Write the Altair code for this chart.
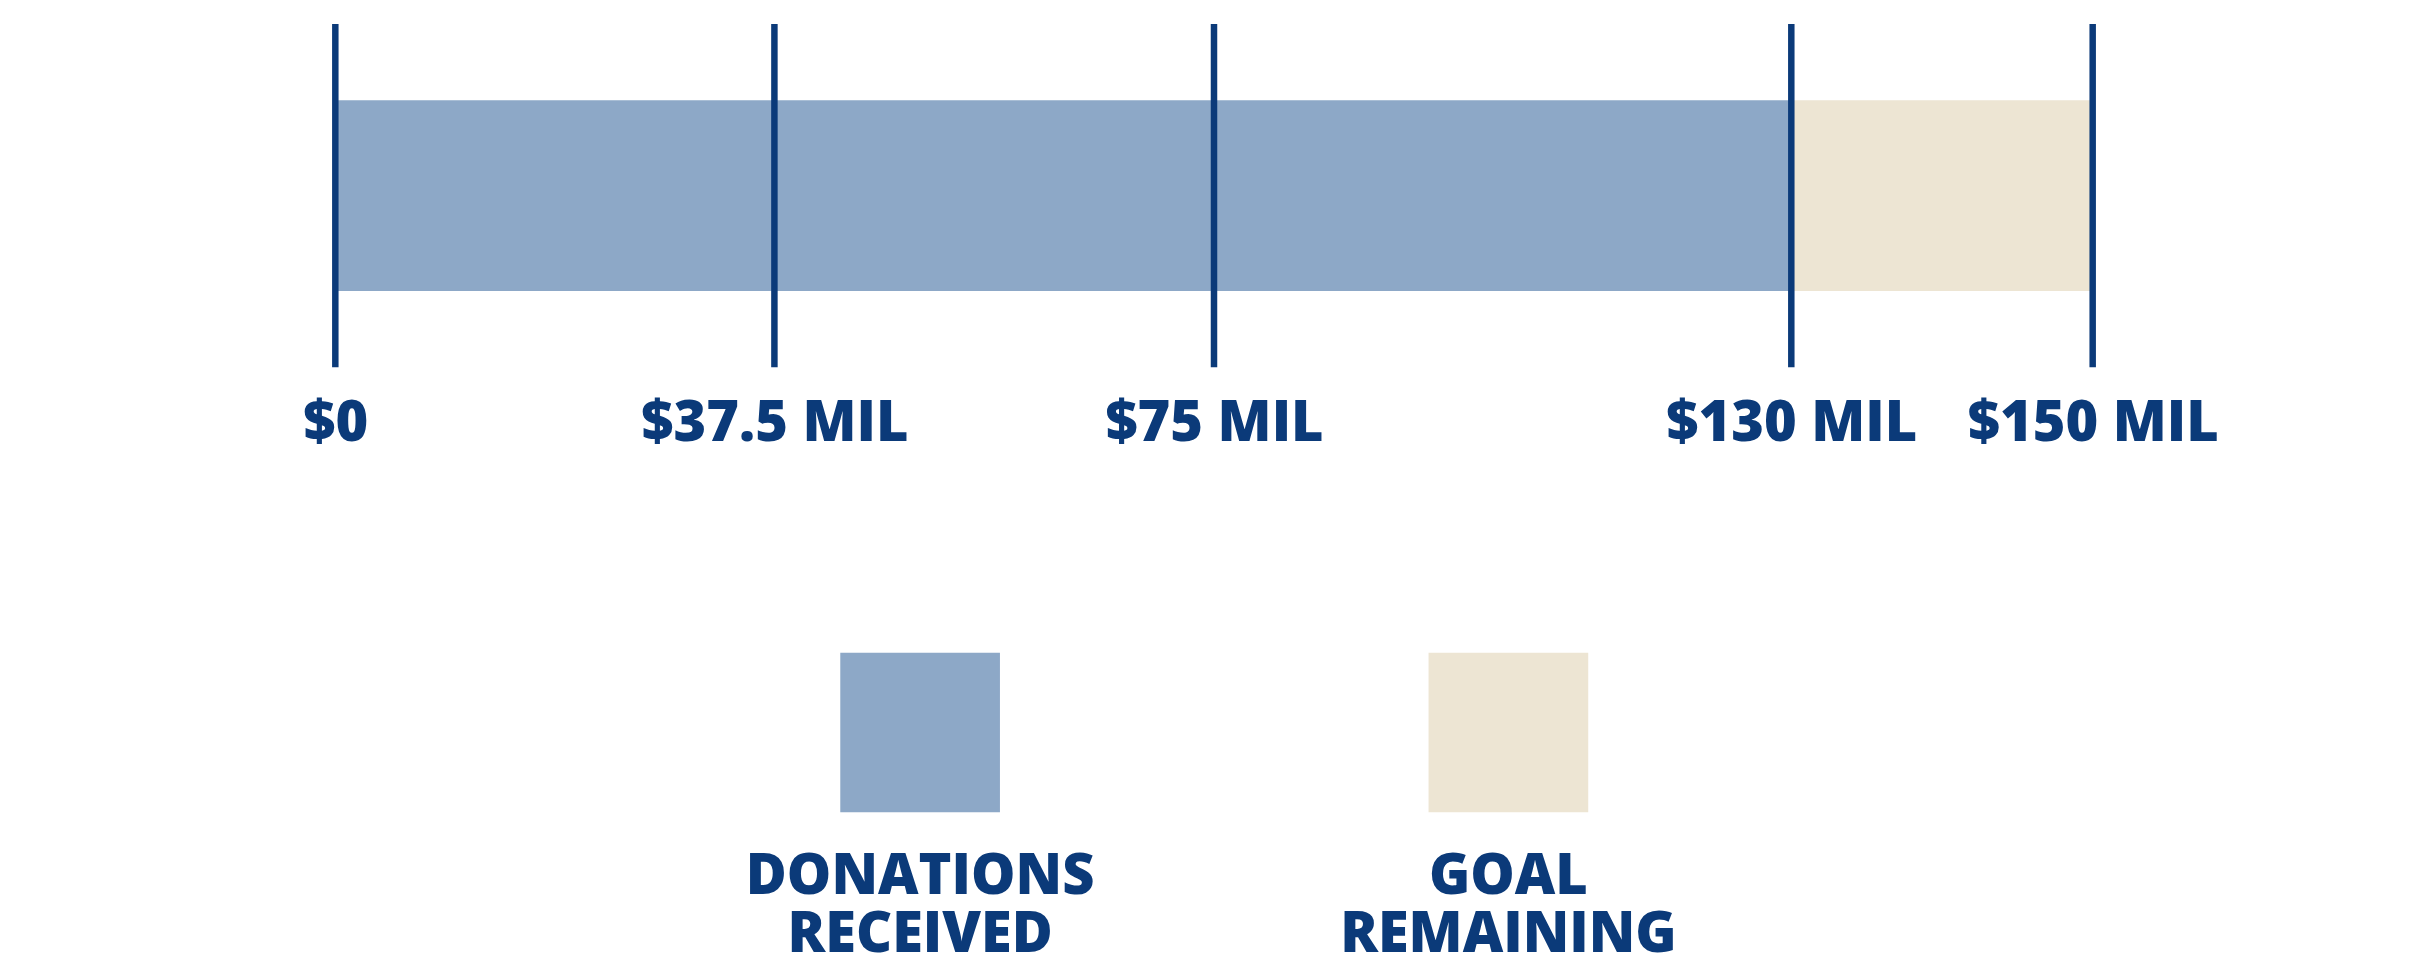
import altair as alt
import pandas as pd

# ---- data ----
SEGMENTS = ["Donations Received", "Goal Remaining"]
SEG_START = [0, 130]
SEG_END = [130, 150]
TICK_VALUES = [0, 37.5, 75, 130, 150]
TICK_LABELS = ["$0", "$37.5 MIL", "$75 MIL", "$130 MIL", "$150 MIL"]

# ---- style ----
NAVY = "#0B3A79"
COLORS = ["#8DA8C7", "#EDE5D3"]
FONT = "Open Sans"
WEIGHT = 800
FSIZE = 56
W, H = 1761, 344
X_RANGE = [0, 440, 880.5, 1459, 1761]        # the infographic's own tick placement
LEGEND_X = [586, 1175.5]

seg_df = pd.DataFrame({"segment": SEGMENTS, "start": SEG_START, "end": SEG_END})
tick_df = pd.DataFrame({"value": TICK_VALUES, "label": TICK_LABELS})

x_scale = alt.Scale(domain=TICK_VALUES, range=X_RANGE, nice=False, zero=False)
color_scale = alt.Scale(domain=SEGMENTS, range=COLORS)

label_expr = "".join(f"datum.value == {v} ? '{l}' : " for v, l in zip(TICK_VALUES, TICK_LABELS)) + "''"

bars = alt.Chart(seg_df).transform_calculate(row="'goal'").mark_bar().encode(
    x=alt.X("start:Q", scale=x_scale,
            axis=alt.Axis(values=TICK_VALUES, labelExpr=label_expr, domain=False, ticks=False,
                          grid=False, title=None, labelFont=FONT, labelFontWeight=WEIGHT,
                          labelFontSize=FSIZE, labelColor=NAVY, labelPadding=73,
                          labelBaseline="alphabetic", labelAlign="center", labelLimit=0,
                          labelFlush=False, labelOverlap=False, labelBound=False)),
    x2="end:Q",
    y=alt.Y("row:N", scale=alt.Scale(paddingInner=0, paddingOuter=0.4), axis=None),
    color=alt.Color("segment:N", scale=color_scale, legend=None),
)

rules = alt.Chart(tick_df).mark_rule(color=NAVY, strokeWidth=6.5).encode(
    x=alt.X("value:Q", scale=x_scale, axis=None)
)

leg_x = alt.X("segment:N", scale=alt.Scale(type="point", domain=SEGMENTS, range=LEGEND_X, padding=0), axis=None)
leg = alt.Chart(seg_df).transform_calculate(lbl="upper(datum.segment)")
squares = leg.mark_square(size=25600, opacity=1).encode(
    x=leg_x, y=alt.value(710),
    color=alt.Color("segment:N", scale=color_scale, legend=None),
)
texts = leg.mark_text(font=FONT, fontWeight=WEIGHT, fontSize=FSIZE, color=NAVY, lineBreak=" ",
                      lineHeight=58, baseline="middle", align="center", limit=0).encode(
    x=leg_x, y=alt.value(855), text="lbl:N"
)

chart = alt.layer(bars, rules, squares, texts).resolve_scale(x="independent").properties(
    width=W, height=H,
    background="white",
    autosize=alt.AutoSizeParams(type="none"),
    padding={"left": 328, "top": 15, "right": 330, "bottom": 600},
).configure_view(stroke=None)

chart.save("out.html", embed_options={"renderer": "svg", "actions": False})
